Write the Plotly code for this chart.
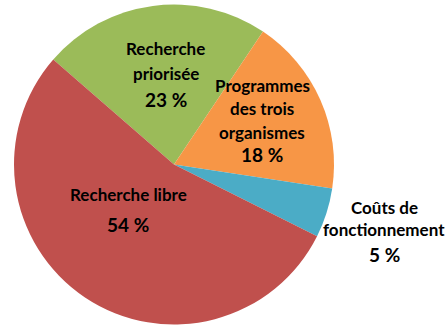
import plotly.graph_objects as go

# Data (clockwise from the upper-left boundary)
categories = ["Recherche\npriorisée", "Programmes\ndes trois\norganismes", "Coûts de\nfonctionnement", "Recherche libre"]
values = [23, 18, 5, 54]
colors = ["#9BBB59", "#F79646", "#4BACC6", "#C0504D"]

W, H = 448, 330
cx, cy, r = 174, 164.5, 160

fig = go.Figure(go.Pie(
    labels=[c.replace("\n", " ") for c in categories],
    values=values,
    sort=False,
    direction="clockwise",
    rotation=-49,
    marker=dict(colors=colors, line=dict(width=0)),
    textinfo="none",
    hoverinfo="label+value",
    domain=dict(x=[(cx - r) / W, (cx + r) / W], y=[(H - cy - r) / H, (H - cy + r) / H]),
    showlegend=False,
))

# Label layout: (center x px, first line y px, line step px, percent y px)
label_pos = [
    (165.5, 49, 24, 100),
    (262, 85, 23.5, 154),
    (384, 208, 21.5, 254),
    (128, 194, 0, 224),
]

font = dict(family="Lato, 'Open Sans', sans-serif", size=17, color="#000000")
annotations = []
for cat, val, (x, y0, step, ypct) in zip(categories, values, label_pos):
    for i, line in enumerate(cat.split("\n")):
        annotations.append(dict(x=x / W, y=1 - (y0 + i * step) / H, xref="paper", yref="paper",
                                text="<b>%s</b>" % line, showarrow=False, font=font,
                                xanchor="center", yanchor="middle"))
    annotations.append(dict(x=x / W, y=1 - ypct / H, xref="paper", yref="paper",
                            text="<b>%d %%</b>" % val, showarrow=False,
                            font=dict(font, size=19),
                            xanchor="center", yanchor="middle"))

fig.update_layout(
    width=W, height=H,
    margin=dict(l=0, r=0, t=0, b=0),
    paper_bgcolor="white", plot_bgcolor="white",
    annotations=annotations,
)

fig.write_html("out.html")
